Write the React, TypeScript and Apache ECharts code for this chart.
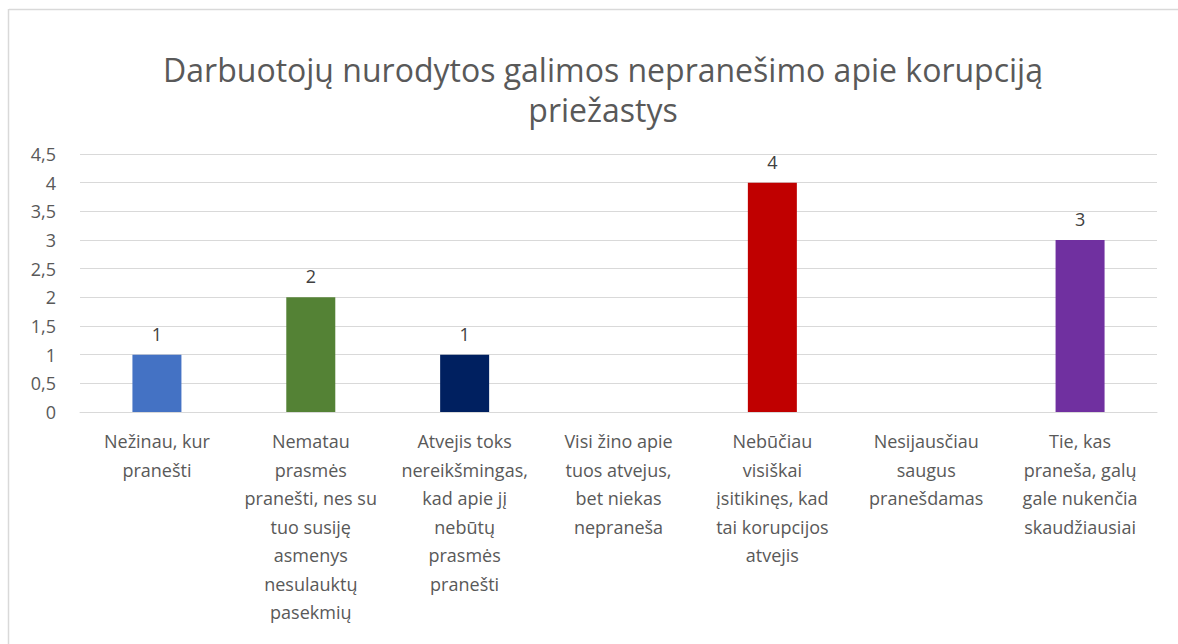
import React, { useEffect, useRef } from "react";
import * as echarts from "echarts";

const titleText = "Darbuotojų nurodytos galimos nepranešimo apie korupciją\npriežastys";

const categories = [
  "Nežinau, kur\npranešti",
  "Nematau\nprasmės\npranešti, nes su\ntuo susiję\nasmenys\nnesulauktų\npasekmių",
  "Atvejis toks\nnereikšmingas,\nkad apie jį\nnebūtų\nprasmės\npranešti",
  "Visi žino apie\ntuos atvejus,\nbet niekas\nnepraneša",
  "Nebūčiau\nvisiškai\nįsitikinęs, kad\ntai korupcijos\natvejis",
  "Nesijausčiau\nsaugus\npranešdamas",
  "Tie, kas\npraneša, galų\ngale nukenčia\nskaudžiausiai",
];

const values = [1, 2, 1, 0, 4, 0, 3];
const barColors = ["#4472C4", "#548235", "#002060", "#A5A5A5", "#C00000", "#FFC000", "#7030A0"];

const FONT = "'Open Sans', 'Noto Sans', sans-serif";

export default function App() {
  const ref = useRef<HTMLDivElement>(null);
  useEffect(() => {
    document.body.style.margin = "0";
    document.body.style.overflow = "hidden";
    const chart = echarts.init(ref.current!, null, { renderer: "svg" });
    chart.setOption({
      animation: false,
      backgroundColor: "#ffffff",
      title: {
        text: titleText,
        left: 598,
        top: 44,
        textAlign: "center",
        textStyle: {
          color: "#595959",
          fontSize: 32,
          fontWeight: "normal",
          fontFamily: FONT,
          lineHeight: 40,
        },
      },
      graphic: [
        { type: "line", shape: { x1: 9, y1: 9.5, x2: 1178, y2: 9.5 }, style: { stroke: "#D9D9D9", lineWidth: 1.5 } },
        { type: "line", shape: { x1: 8.5, y1: 9, x2: 8.5, y2: 644 }, style: { stroke: "#D9D9D9", lineWidth: 1.5 } },
      ],
      grid: { left: 80, right: 21, top: 154, bottom: 232, containLabel: false },
      xAxis: {
        type: "category",
        data: categories,
        axisLine: { show: true, lineStyle: { color: "#D9D9D9", width: 1 } },
        axisTick: { show: false },
        axisLabel: {
          interval: 0,
          color: "#595959",
          fontSize: 18,
          fontFamily: FONT,
          lineHeight: 28.5,
          margin: 15,
          verticalAlign: "top",
        },
      },
      yAxis: {
        type: "value",
        min: 0,
        max: 4.5,
        interval: 0.5,
        axisLine: { show: false },
        axisTick: { show: false },
        splitLine: { lineStyle: { color: "#D9D9D9", width: 1 } },
        axisLabel: {
          color: "#595959",
          fontSize: 18,
          fontFamily: FONT,
          margin: 24,
          formatter: (v: number) => String(v).replace(".", ","),
        },
      },
      series: [
        {
          type: "bar",
          barWidth: 49,
          data: values.map((v, i) => ({ value: v, itemStyle: { color: barColors[i] } })),
          label: {
            show: true,
            position: "top",
            distance: 12,
            color: "#404040",
            fontSize: 18,
            fontFamily: FONT,
            formatter: (p: any) => (p.value === 0 ? "" : String(p.value)),
          },
        },
      ],
    });
    return () => chart.dispose();
  }, []);
  return <div ref={ref} style={{ width: 1178, height: 644 }} />;
}
